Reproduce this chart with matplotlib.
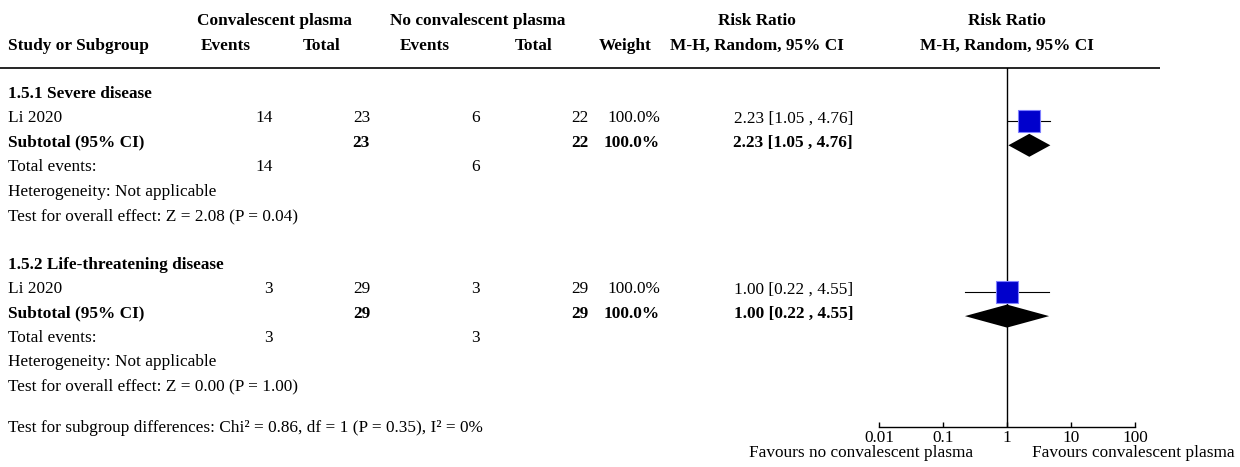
import matplotlib
matplotlib.use("Agg")
import matplotlib.pyplot as plt
from matplotlib.ticker import NullLocator

plt.rcParams['font.family'] = ['Liberation Serif', 'DejaVu Serif']
FS = 12.4

# ---------------- data ----------------
group_titles = ["1.5.1 Severe disease", "1.5.2 Life-threatening disease"]
study_names = ["Li 2020", "Li 2020"]
cp_events = [14, 3]
cp_total = [23, 29]
ncp_events = [6, 3]
ncp_total = [22, 29]
weights = [100.0, 100.0]
rr = [2.23, 1.00]
ci_low = [1.05, 0.22]
ci_high = [4.76, 4.55]
sub_rr = [2.23, 1.00]
sub_low = [1.05, 0.22]
sub_high = [4.76, 4.55]
z_vals = [2.08, 0.00]
p_vals = [0.04, 1.00]
subgroup_test = "Test for subgroup differences: Chi² = 0.86, df = 1 (P = 0.35), I² = 0%"
tick_values = [0.01, 0.1, 1, 10, 100]
tick_labels = ["0.01", "0.1", "1", "10", "100"]
favours_left = "Favours no convalescent plasma"
favours_right = "Favours convalescent plasma"

# ---------------- layout (pixels) ----------------
W, H = 1240, 467
fig = plt.figure(figsize=(W / 100, H / 100), dpi=100)
ax = fig.add_axes([0, 0, 1, 1])
ax.set_xlim(0, W)
ax.set_ylim(H, 0)
ax.axis('off')

X_STUDY = 8
X_EV1, X_EV1_H = 273, 226
X_TOT1, X_TOT1_H = 370, 322
X_EV2, X_EV2_H = 480, 425
X_TOT2, X_TOT2_H = 588, 534
X_W, X_W_H = 660, 625
X_RR, X_RR_H = 853, 757
X_PLOT_H = 1007

def row_y(k):
    return 98 + 24.4 * k

def t(x, y, s, ha='left', bold=False):
    ax.text(x, y, s, ha=ha, va='baseline', fontsize=FS,
            fontweight='bold' if bold else 'normal', color='black')

# headers
t(274, 25, "Convalescent plasma", 'center', True)
t(478, 25, "No convalescent plasma", 'center', True)
t(X_RR_H, 25, "Risk Ratio", 'center', True)
t(X_PLOT_H, 25, "Risk Ratio", 'center', True)
t(X_STUDY, 50, "Study or Subgroup", 'left', True)
t(X_EV1_H, 50, "Events", 'center', True)
t(X_TOT1_H, 50, "Total", 'center', True)
t(X_EV2_H, 50, "Events", 'center', True)
t(X_TOT2_H, 50, "Total", 'center', True)
t(X_W_H, 50, "Weight", 'center', True)
t(X_RR_H, 50, "M-H, Random, 95% CI", 'center', True)
t(X_PLOT_H, 50, "M-H, Random, 95% CI", 'center', True)
ax.plot([0, 1160], [68, 68], color='black', lw=1.2, solid_capstyle='butt')

# forest axes
AX_TOP, AX_BOT = 68, 427
X0, X1 = 879, 1135
fx = fig.add_axes([X0 / W, (H - AX_BOT) / H, (X1 - X0) / W, (AX_BOT - AX_TOP) / H])
fx.patch.set_visible(False)
fx.set_xscale('log')
fx.set_xlim(tick_values[0], tick_values[-1])
fx.set_ylim(AX_BOT, AX_TOP)
for sp in ['top', 'right', 'left']:
    fx.spines[sp].set_visible(False)
fx.spines['bottom'].set_linewidth(1.0)
fx.set_yticks([])
fx.set_xticks(tick_values)
fx.set_xticklabels(tick_labels)
fx.xaxis.set_minor_locator(NullLocator())
fx.tick_params(axis='x', direction='in', length=3.6, width=1.0, pad=2, labelsize=FS)
for lab in fx.get_xticklabels():
    lab.set_fontfamily(['Liberation Serif', 'DejaVu Serif'])
fx.axvline(1, color='black', lw=1.0)

for g in range(len(group_titles)):
    base = g * 7
    t(X_STUDY, row_y(base), group_titles[g], 'left', True)
    # study row
    y1 = row_y(base + 1)
    t(X_STUDY, y1, study_names[g])
    t(X_EV1, y1, f"{cp_events[g]}", 'right')
    t(X_TOT1, y1, f"{cp_total[g]}", 'right')
    t(X_EV2, y1, f"{ncp_events[g]}", 'right')
    t(X_TOT2, y1, f"{ncp_total[g]}", 'right')
    t(X_W, y1, f"{weights[g]:.1f}%", 'right')
    t(X_RR, y1, f"{rr[g]:.2f} [{ci_low[g]:.2f} , {ci_high[g]:.2f}]", 'right')
    ym = y1 - 1.5
    fx.plot([ci_low[g], ci_high[g]], [ym, ym], color='black', lw=0.8, clip_on=False, zorder=2)
    fx.plot([rr[g]], [ym], marker='s', markersize=16.5, markerfacecolor='#0000CC',
            markeredgecolor='#7F7FFF', markeredgewidth=0.8, linestyle='none', clip_on=False, zorder=3)
    # subtotal row
    y2 = row_y(base + 2)
    t(X_STUDY, y2, "Subtotal (95% CI)", 'left', True)
    t(X_TOT1, y2, f"{cp_total[g]}", 'right', True)
    t(X_TOT2, y2, f"{ncp_total[g]}", 'right', True)
    t(X_W, y2, f"{weights[g]:.1f}%", 'right', True)
    t(X_RR, y2, f"{sub_rr[g]:.2f} [{sub_low[g]:.2f} , {sub_high[g]:.2f}]", 'right', True)
    yd = y2 - 1.5
    hh = 11.5
    fx.fill([sub_low[g], sub_rr[g], sub_high[g], sub_rr[g]],
            [yd, yd - hh, yd, yd + hh], color='black', clip_on=False, zorder=3, lw=0)
    # total events
    y3 = row_y(base + 3)
    t(X_STUDY, y3, "Total events:")
    t(X_EV1, y3, f"{cp_events[g]}", 'right')
    t(X_EV2, y3, f"{ncp_events[g]}", 'right')
    t(X_STUDY, row_y(base + 4), "Heterogeneity: Not applicable")
    t(X_STUDY, row_y(base + 5), f"Test for overall effect: Z = {z_vals[g]:.2f} (P = {p_vals[g]:.2f})")

t(X_STUDY, 432, subgroup_test)
ax.text(973, 457, favours_left, ha='right', va='baseline', fontsize=FS)
ax.text(1032, 457, favours_right, ha='left', va='baseline', fontsize=FS)

fig.savefig("out.png", dpi=100)
